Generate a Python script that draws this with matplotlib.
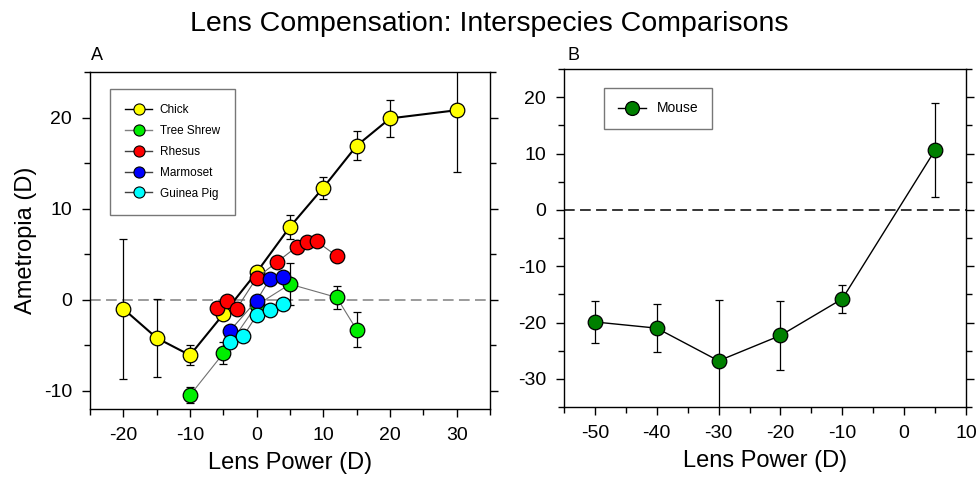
import numpy as np
import matplotlib
matplotlib.use("Agg")
import matplotlib.pyplot as plt
from matplotlib.ticker import MultipleLocator
from matplotlib.lines import Line2D

plt.rcParams['font.family'] = ['Liberation Sans', 'DejaVu Sans']
plt.rcParams['axes.unicode_minus'] = False

# Panel A data: lens power (D) vs ametropia (D)
chick_x = [-20, -15, -10, -5, 0, 5, 10, 15, 20, 30]
chick_y = [-1.0, -4.2, -6.1, -1.6, 3.0, 8.0, 12.3, 16.9, 19.9, 20.8]
chick_err = [7.7, 4.3, 1.1, 0.0, 0.0, 1.3, 1.2, 1.6, 2.0, 6.8]

shrew_x = [-10, -5, 0, 5, 12, 15]
shrew_y = [-10.5, -5.9, -0.6, 1.7, 0.25, -3.3]
shrew_err = [0.9, 1.2, 0.0, 2.3, 1.3, 1.9]

rhesus_x = [-6, -4.5, -3, 0, 3, 6, 7.5, 9, 12]
rhesus_y = [-0.9, -0.1, -1.0, 2.4, 4.1, 5.8, 6.3, 6.4, 4.8]

marmoset_x = [-4, 0, 2, 4]
marmoset_y = [-3.4, -0.1, 2.3, 2.5]

guinea_x = [-4, -2, 0, 2, 4]
guinea_y = [-4.65, -4.0, -1.7, -1.1, -0.5]

# Panel B data
mouse_x = [-50, -40, -30, -20, -10, 5]
mouse_y = [-19.9, -21.0, -26.8, -22.3, -15.8, 10.6]
mouse_err = [3.7, 4.3, 10.8, 6.2, 2.5, 8.3]

fig = plt.figure(figsize=(9.79, 4.83), dpi=100)
axA = fig.add_axes([0.0919, 0.1533, 0.4086, 0.6977])
axB = fig.add_axes([0.5761, 0.1573, 0.4106, 0.6998])

ms = 10.5
mkw = dict(markeredgecolor='black', markeredgewidth=0.9, markersize=ms)
ebkw = dict(ecolor='black', elinewidth=0.9, capsize=2.8, capthick=0.9, **mkw)

axA.axhline(0, color='#808080', linestyle=(0, (7, 3.5)), linewidth=1.1, zorder=1)
axA.errorbar(chick_x, chick_y, yerr=chick_err, fmt='-o', color='black', lw=1.5,
             markerfacecolor='#ffff00', zorder=3, **ebkw)
axA.errorbar(shrew_x, shrew_y, yerr=shrew_err, fmt='-o', color='#707070', lw=0.8,
             markerfacecolor='#00ee00', zorder=4, **ebkw)
axA.plot(rhesus_x, rhesus_y, '-o', color='#606060', lw=0.8, markerfacecolor='#ff0000',
         zorder=5, **mkw)
axA.plot(marmoset_x, marmoset_y, '-o', color='#606060', lw=0.8, markerfacecolor='#0000ff',
         zorder=6, **mkw)
axA.plot(guinea_x, guinea_y, '-o', color='#606060', lw=0.8, markerfacecolor='#00ffff',
         zorder=7, **mkw)

names = ['Chick', 'Tree Shrew', 'Rhesus', 'Marmoset', 'Guinea Pig']
faces = ['#ffff00', '#00ee00', '#ff0000', '#0000ff', '#00ffff']
lcols = ['black', '#808080', '#404040', '#404040', '#404040']
handles = [Line2D([], [], color=c, lw=1.0, marker='o', markerfacecolor=f,
                  markeredgecolor='black', markeredgewidth=0.8, markersize=8)
           for f, c in zip(faces, lcols)]

axA.set_xlim(-25, 35)
axA.set_ylim(-12, 25)
axA.xaxis.set_major_locator(MultipleLocator(10))
axA.xaxis.set_minor_locator(MultipleLocator(5))
axA.yaxis.set_major_locator(MultipleLocator(10))
axA.yaxis.set_minor_locator(MultipleLocator(5))
axA.set_xlabel('Lens Power (D)', fontsize=17, labelpad=6)
axA.set_ylabel('Ametropia (D)', fontsize=17, labelpad=5)
legA = axA.legend(handles, names, loc='upper left', bbox_to_anchor=(0.05, 0.95),
                  borderaxespad=0, fontsize=8.5, frameon=True, fancybox=False,
                  edgecolor='#555555', handlelength=2.3, labelspacing=0.75,
                  borderpad=1.3, handletextpad=0.6)
legA.get_frame().set_linewidth(1.0)
legA.set_zorder(10)

axB.axhline(0, color='black', linestyle=(0, (7, 3.5)), linewidth=1.1, zorder=1)
axB.errorbar(mouse_x, mouse_y, yerr=mouse_err, fmt='-o', color='black', lw=1.0,
             markerfacecolor='#008000', zorder=3, **ebkw)
axB.set_xlim(-55, 10)
axB.set_ylim(-35, 25)
axB.xaxis.set_major_locator(MultipleLocator(10))
axB.xaxis.set_minor_locator(MultipleLocator(5))
axB.yaxis.set_major_locator(MultipleLocator(10))
axB.yaxis.set_minor_locator(MultipleLocator(5))
axB.set_xlabel('Lens Power (D)', fontsize=17, labelpad=6)
mouse_handle = Line2D([], [], color='black', lw=1.0, marker='o', markerfacecolor='#008000',
                      markeredgecolor='black', markeredgewidth=0.9, markersize=10)
legB = axB.legend([mouse_handle], ['Mouse'], loc='upper left', bbox_to_anchor=(0.10, 0.945),
                  borderaxespad=0, fontsize=10, frameon=True, fancybox=False,
                  edgecolor='#555555', handlelength=2.0, borderpad=1.0, handletextpad=0.8)
legB.get_frame().set_linewidth(1.0)

for ax in (axA, axB):
    ax.tick_params(axis='both', which='both', direction='out', labelsize=14, pad=7)
    ax.tick_params(axis='y', which='both', left=True, right=True)
    ax.tick_params(axis='both', which='major', length=6, width=1)
    ax.tick_params(axis='both', which='minor', length=4, width=1)
    for s in ax.spines.values():
        s.set_linewidth(1.0)

fig.text(0.093, 0.868, 'A', fontsize=13, ha='left', va='bottom')
fig.text(0.580, 0.868, 'B', fontsize=13, ha='left', va='bottom')
fig.suptitle('Lens Compensation: Interspecies Comparisons', fontsize=20.5, y=0.978, va='top')

fig.savefig('out.png', dpi=100)
